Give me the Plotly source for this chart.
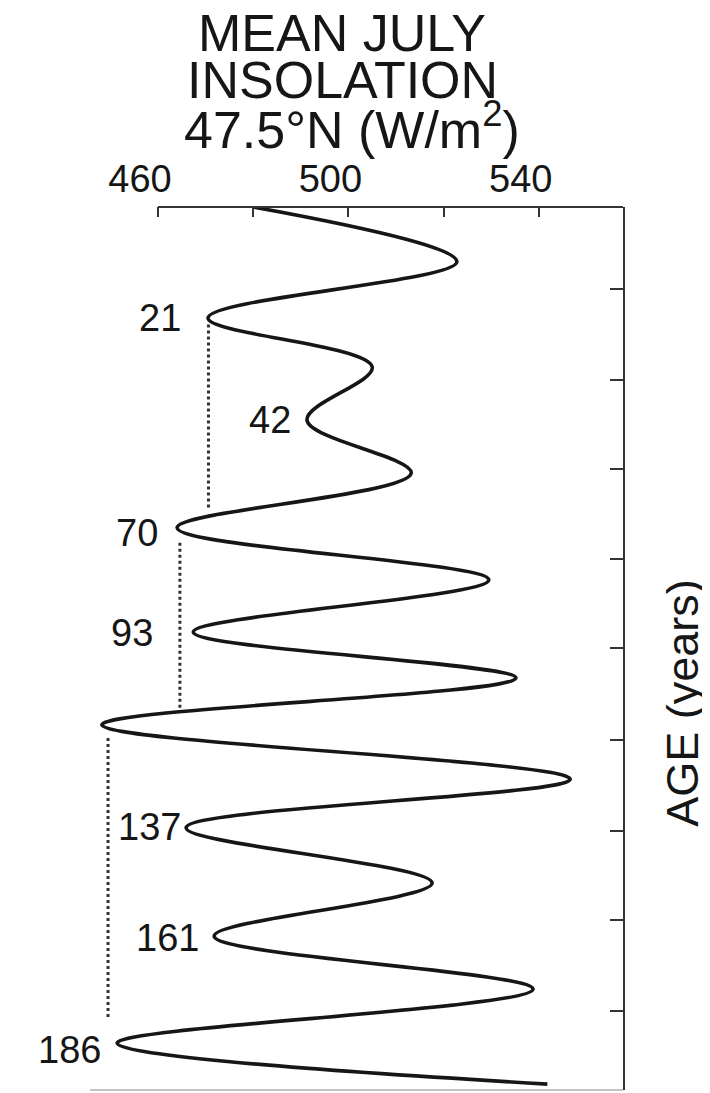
import plotly.graph_objects as go

# Curve turning points (age, W/m2)
ages = [-4.1, 8.3, 21.0, 32.1, 44.1, 56.1, 68.5, 80.3, 92.1, 102.5,
        113.1, 125.4, 136.4, 148.9, 160.9, 172.9, 185.1, 194.4]
insolation = [480.0, 522.8, 470.5, 505.0, 491.3, 513.2, 464.0, 529.5, 467.4, 535.2,
              448.2, 546.6, 465.9, 517.6, 471.8, 538.8, 451.4, 541.8]

# Minimum labels
min_labels = ["21", "42", "70", "93", "114", "137", "161", "186"]
min_label_age = [21.0, 44.1, 69.7, 92.3, 113.5, 136.2, 161.3, 186.7]
min_label_x = [465.3, 488.4, 460.4, 459.4, 443.4, 465.3, 469.0, 448.4]

# Dotted reference lines
dotted_x = [470.6, 464.6, 449.5]
dotted_start = [22.5, 71.9, 116.1]
dotted_end = [64.5, 110.2, 179.7]

x_ticks = [460, 500, 540]
x_minor_ticks = [480, 520]
y_ticks = [14.4, 35.0, 55.2, 75.6, 95.7, 116.5, 137.1, 157.2, 177.8]

x_range = [445.71, 557.69]
y_range = [195.74, -4.1]

FONT = "Liberation Sans, Arial, Helvetica, sans-serif"
INK = "#161616"

fig = go.Figure()

for dx, s, e in zip(dotted_x, dotted_start, dotted_end):
    fig.add_trace(go.Scatter(x=[dx, dx], y=[s, e], mode="lines",
                             line=dict(color="#333333", width=3, dash="dot"),
                             hoverinfo="skip", showlegend=False))

fig.add_trace(go.Scatter(x=insolation, y=ages, mode="lines",
                         line=dict(color=INK, width=3.6, shape="spline", smoothing=1),
                         showlegend=False))

for t, a, xv in zip(min_labels, min_label_age, min_label_x):
    fig.add_annotation(x=xv, y=a, xref="x", yref="y", text=t, showarrow=False,
                       xanchor="right", yanchor="middle",
                       font=dict(family=FONT, size=38, color=INK))

# page body adds an 8px margin; figure coords = reference coords - 8
OFF = 8
W, H = 710 - OFF, 1093 - OFF
ml, mr, mt, mb = 90 - OFF, 87, 207 - OFF, 3
pw = W - ml - mr
ph = H - mt - mb


def px_x(px):
    return (px - OFF - ml) / pw


def px_y(py):
    return 1 + (mt - (py - OFF)) / ph


title_lines = ["MEAN JULY", "INSOLATION", "47.5°N (W/m<sup>2</sup>)"]
title_cx = [342, 342, 352]
title_cy = [33, 80, 126]
for t, cx, cy in zip(title_lines, title_cx, title_cy):
    fig.add_annotation(x=px_x(cx), y=px_y(cy), xref="paper", yref="paper", text=t,
                       showarrow=False, xanchor="center", yanchor="middle",
                       font=dict(family=FONT, size=52, color=INK))

fig.add_annotation(x=px_x(683), y=108.1, xref="paper", yref="y", text="AGE (years)",
                   textangle=-90, showarrow=False, xanchor="center", yanchor="middle",
                   font=dict(family=FONT, size=45, color=INK))

# top spine starting at the 460 tick
fig.add_shape(type="line", xref="x", yref="paper", x0=x_ticks[0], x1=x_range[1], y0=1, y1=1,
              line=dict(color="#333333", width=2))
# faint bottom edge
fig.add_shape(type="line", xref="paper", yref="paper", x0=0, x1=1, y0=0, y1=0,
              line=dict(color="#b0b0b0", width=1.5))

fig.update_layout(
    width=W, height=H,
    margin=dict(l=ml, r=mr, t=mt, b=mb),
    paper_bgcolor="white", plot_bgcolor="white",
    showlegend=False,
    xaxis=dict(range=x_range, side="top", tickvals=x_ticks,
               ticks="inside", ticklen=10, tickwidth=2, tickcolor="#333333",
               minor=dict(tickvals=x_minor_ticks, ticks="inside", ticklen=10,
                          tickwidth=2, tickcolor="#333333", showgrid=False),
               showline=False, showgrid=False, zeroline=False,
               tickfont=dict(family=FONT, size=38, color=INK),
               ticklabelshift=-18, ticklabelstandoff=6, fixedrange=True),
    yaxis=dict(range=y_range, side="right", tickvals=y_ticks, showticklabels=False,
               ticks="inside", ticklen=13, tickwidth=2, tickcolor="#333333",
               showline=True, linecolor="#333333", linewidth=2,
               showgrid=False, zeroline=False, fixedrange=True),
)

fig.write_html("out.html")
